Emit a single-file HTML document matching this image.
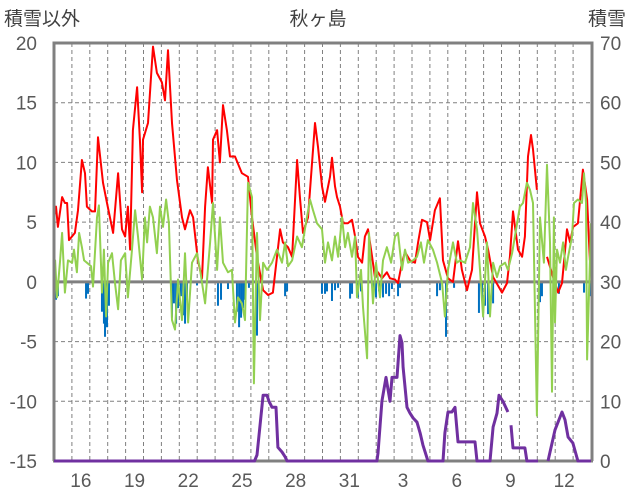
<!DOCTYPE html>
<html><head><meta charset="utf-8"><style>
html,body{margin:0;padding:0;background:#fff;}
svg{display:block;font-family:"Liberation Sans","Noto Sans CJK JP",sans-serif;}
</style></head><body>
<svg id="chart" width="636" height="501" viewBox="0 0 636 501" xmlns="http://www.w3.org/2000/svg">
<text x="318" y="25" font-size="19" text-anchor="middle" fill="#404040">秋ヶ島</text>
<text x="4" y="25" font-size="19" fill="#404040">積雪以外</text>
<text x="588" y="25" font-size="19" fill="#404040">積雪</text>
<g id="grid"></g>
<g id="bars"></g>
<g id="lines"></g>
<g id="frame"></g>
<g id="snowg"></g>
<g id="labels"></g>
</svg>
<script>
const leftTicks=[20,15,10,5,0,-5,-10,-15];
const rightTicks=[70,60,50,40,30,20,10,0];
const dayLabels=["16","19","22","25","28","31","3","6","9","12"];
const dayLabelIdx=[1,4,7,10,13,16,19,22,25,28];
const tRed=[0,0.11,0.22,0.45,0.61,0.73,0.84,1.17,1.34,1.56,1.73,1.84,2.12,2.29,2.46,2.74,2.96,3.30,3.58,3.80,3.97,4.13,4.25,4.41,4.64,4.80,4.92,4.97,5.25,5.53,5.75,6.03,6.20,6.37,6.59,6.87,7.15,7.32,7.60,7.77,8.04,8.27,8.44,8.60,8.83,8.88,9.11,9.27,9.44,9.66,9.83,10.11,10.50,10.84,11.06,11.34,11.68,11.96,12.23,12.46,12.63,12.79,13.07,13.30,13.58,13.74,13.91,14.19,14.58,14.75,14.97,15.14,15.42,15.53,15.70,15.81,15.98,16.15,16.42,16.65,16.82,16.98,17.21,17.37,17.54,17.77,17.93,18.10,18.32,18.60,18.77,19.05,19.22,19.44,19.61,19.89,20.17,20.34,20.56,20.84,21.01,21.28,21.56,21.73,22.01,22.29,22.57,22.79,23.07,23.35,23.63,23.80,24.08,24.25,24.53,24.80,25.03,25.31,25.47,25.64,25.92,26.15,26.31,26.48,26.65,26.76,26.98,27.1,27.54,27.88,28.16,28.38,28.66,28.83,29.00,29.27,29.55,29.78,29.94];
const red=[5.4,6.3,4.6,7.1,6.6,6.6,3.5,4.1,6.0,10.2,9.1,6.3,5.9,5.9,12.1,8.3,6.6,4.1,9.1,4.4,3.8,6.3,2.7,12.7,16.3,11.9,7.5,11.9,13.3,19.7,17.5,16.7,15.2,19.4,13.3,8.5,5.4,4.4,6.0,5.4,1.8,0.3,6.3,9.6,6.6,11.9,12.7,10.0,14.8,12.7,10.5,10.5,9.1,8.8,5.4,2.1,-0.7,-1.1,-0.9,2.1,4.4,3.3,2.9,2.1,10.2,7.1,4.1,5.4,13.3,11.3,8.0,6.7,8.8,10.4,8.0,7.1,6.3,4.9,4.9,5.2,3.8,2.1,1.6,3.8,4.4,2.1,0.4,0.8,0.3,0.8,0.3,0.2,-0.1,1.6,2.5,1.8,1.6,3.3,5.2,5.0,3.5,6.0,7.0,1.8,0.3,0.0,3.4,1.0,-0.7,1.0,7.5,4.9,3.8,2.7,0.4,-0.3,-0.9,-0.1,2.1,5.9,2.7,2.1,3.8,10.5,12.3,11.1,7.7,null,2.1,0.4,-0.9,-0.1,4.4,3.3,4.6,4.9,9.4,6.9,1.8];
const tGreen=[0,0.06,0.17,0.34,0.45,0.61,0.78,1.01,1.12,1.28,1.40,1.56,1.68,1.84,2.07,2.18,2.40,2.51,2.68,2.79,2.91,3.02,3.24,3.41,3.58,3.74,3.97,4.13,4.36,4.53,4.69,4.92,5.08,5.20,5.36,5.53,5.75,5.92,6.09,6.26,6.42,6.59,6.76,6.93,7.15,7.32,7.49,7.71,7.99,8.16,8.44,8.72,8.88,9.11,9.27,9.44,9.72,9.94,10.11,10.28,10.50,10.67,10.84,11.06,11.17,11.34,11.51,11.68,11.90,12.18,12.46,12.74,12.91,13.07,13.30,13.58,13.85,14.13,14.30,14.47,14.69,14.97,15.14,15.31,15.53,15.70,15.87,16.09,16.26,16.42,16.65,16.82,16.93,17.15,17.26,17.49,17.60,17.82,17.99,18.21,18.38,18.60,18.83,19.05,19.22,19.44,19.61,19.78,20.06,20.28,20.50,20.67,20.89,21.17,21.40,21.68,21.84,22.01,22.29,22.51,22.68,22.96,23.24,23.41,23.63,23.80,23.97,24.19,24.36,24.53,24.75,24.92,25.20,25.36,25.59,25.87,26.03,26.20,26.42,26.59,26.76,26.98,27.15,27.37,27.54,27.71,27.82,27.93,27.99,28.10,28.27,28.44,28.60,28.72,28.94,29.05,29.27,29.50,29.61,29.72,29.78,30.0];
const green=[-4.0,1.8,-1.3,1.8,4.1,-0.9,1.8,1.6,2.7,0.8,4.1,2.9,1.8,1.6,1.3,-0.4,5.4,6.4,-0.9,2.7,-2.9,1.6,2.4,-0.1,-2.3,1.8,2.4,-1.3,2.7,6.0,3.8,0.2,5.4,3.3,6.3,5.4,2.4,6.3,4.6,6.9,4.9,-3.2,-4.0,0.2,-3.2,2.4,-3.4,1.6,2.4,1.0,-1.8,3.3,6.6,1.0,5.4,1.6,0.8,1.0,-3.4,-1.3,-1.8,-3.2,8.3,7.1,-8.5,4.1,-3.2,1.6,1.0,1.6,2.7,1.6,3.3,1.3,1.8,3.8,2.9,5.4,6.9,6.0,4.9,4.4,1.6,3.3,1.8,3.8,2.1,5.4,2.9,4.1,2.1,3.8,-1.3,1.0,-2.1,-6.4,4.1,-1.8,1.6,-1.3,1.8,2.9,1.6,3.8,4.1,1.0,2.7,1.6,1.8,2.1,3.3,1.6,3.5,2.7,1.6,-0.1,-2.9,1.0,3.3,1.6,1.8,1.6,2.9,6.6,4.4,1.0,-2.9,3.3,-2.9,1.6,0.4,1.3,1.6,1.0,2.4,4.9,6.3,6.6,8.3,7.7,6.6,-11.2,5.4,1.6,9.8,3.3,-9.2,5.4,-3.4,2.7,1.6,3.3,1.0,2.1,3.8,6.6,6.9,6.6,9.1,6.6,-6.5,4.9];
const tBars=[0.11,0.22,1.79,1.90,2.68,2.79,2.85,2.96,3.07,6.59,6.70,6.82,6.93,7.09,7.21,7.32,7.43,7.99,9.16,9.33,9.72,10.22,10.34,10.45,10.56,10.67,10.89,11.34,12.91,13.02,14.97,15.14,15.25,15.53,15.70,15.87,16.54,16.65,16.98,17.15,17.82,17.99,18.16,18.38,18.55,18.72,18.88,19.22,19.33,21.40,21.56,21.90,22.35,23.74,23.91,24.08,24.25,24.53,27.15,27.26,28.21,29.61,29.94];
const bars=[-1.5,-1.2,-1.4,-1.0,-2.5,-3.5,-4.6,-3.8,-2.0,-3.0,-1.8,-3.5,-2.2,-1.2,-2.8,-3.5,-1.5,-0.3,-2.0,-1.5,-0.6,-2.5,-3.8,-3.0,-2.2,-1.5,-0.5,-4.5,-1.2,-0.8,-1.0,-1.0,-0.8,-1.6,-0.7,-0.5,-1.4,-1.0,-1.3,-0.8,-1.2,-1.3,-0.8,-1.3,-1.0,-1.2,-0.6,-1.2,-0.5,-1.2,-0.7,-4.6,-0.5,-2.6,-1.5,-2.0,-2.7,-1.8,-1.7,-1.2,-1.0,-0.9,-1.2];
const tSnow=[0,11.2,11.34,11.68,11.90,12.01,12.18,12.40,12.51,12.74,12.91,13.02,18.04,18.10,18.32,18.55,18.77,18.88,19.16,19.33,19.44,19.50,19.72,19.89,20.06,20.28,20.45,20.61,20.84,20.89,21.73,21.84,22.01,22.23,22.40,22.57,23.52,23.63,24.36,24.53,24.75,24.86,25.08,25.36,25.45,25.53,25.64,26.31,26.42,27.04,27.3,27.60,27.99,28.38,28.55,28.72,28.99,29.27,30];
const snow=[0,0,1,11,11,10,9,9,2.3,1.5,0.7,0,0,1.3,10,14,10,14,14,21,19.8,15.7,9,8,7.2,6.5,4.7,2.7,0.5,0,0,4.7,8.2,8.2,9,3.2,3.2,0,0,5.7,8,11,10,8.2,null,6,2.2,2.2,0,0,null,0,5.2,8.2,6.9,4,3,0,0];

const NS="http://www.w3.org/2000/svg";
const X0=54,X1=591,YT=43,YB=461,DAYS=30;
const xs=t=>X0+(X1-X0)*t/DAYS;
const yl=v=>YB-(v+15)*(YB-YT)/35;
const yr=v=>YB-v*(YB-YT)/70;
function mk(tag,attrs,parent){const e=document.createElementNS(NS,tag);for(const k in attrs)e.setAttribute(k,attrs[k]);parent.appendChild(e);return e;}
const grid=document.getElementById('grid');
for(let d=1;d<DAYS;d++){
 const l=mk('line',{x1:xs(d),x2:xs(d),y1:YT,y2:YB,stroke:'#808080','stroke-width':1,'stroke-dasharray':'4,3'},grid);
 
 
}
leftTicks.forEach(v=>{if(v===20||v===-15||v===0)return;
 const l=mk('line',{x1:X0,x2:X1,y1:yl(v),y2:yl(v),stroke:'#808080','stroke-width':1,'stroke-dasharray':'4,3'},grid);
 
 
});
const bg=document.getElementById('bars');
tBars.forEach((t,i)=>{const v=bars[i];
 const r=mk('rect',{x:xs(t)-1,y:yl(0),width:2,height:yl(v)-yl(0),fill:'#0070C0'},bg);
 
 
});
function pathOf(ts,vs,yf){let d='',pen=false;ts.forEach((t,i)=>{const v=vs[i];if(v===null){pen=false;return;}d+=(pen?'L':'M')+xs(t).toFixed(1)+','+yf(v).toFixed(1);pen=true;});return d;}
const lg=document.getElementById('lines');
const zl=mk('line',{x1:X0,x2:X1,y1:yl(0),y2:yl(0),stroke:'#808080','stroke-width':3},lg);


const pr=mk('path',{d:pathOf(tRed,red,yl),fill:'none',stroke:'#FF0000','stroke-width':2,'stroke-linejoin':'round'},lg);


const pg=mk('path',{d:pathOf(tGreen,green,yl),fill:'none',stroke:'#92D050','stroke-width':2,'stroke-linejoin':'round'},lg);


const fr=document.getElementById('frame');
const b=mk('path',{d:`M${X0},${YB}V${YT}H${X1+1}V${YB}`,fill:'none',stroke:'#808080','stroke-width':3},fr);


const ax=mk('line',{x1:X0-1,x2:X1+2,y1:YB,y2:YB,stroke:'#808080','stroke-width':3},fr);


const sg=document.getElementById('snowg');
const pp=mk('path',{d:pathOf(tSnow,snow,yr),fill:'none',stroke:'#7030A0','stroke-width':3,'stroke-linejoin':'round'},sg);


const lb=document.getElementById('labels');
leftTicks.forEach(v=>{const t=mk('text',{x:37,y:yl(v)+7,'font-size':19,'text-anchor':'end',fill:'#595959'},lb);t.textContent=v;
 
 });
rightTicks.forEach(v=>{const t=mk('text',{x:600,y:yr(v)+7,'font-size':19,fill:'#595959'},lb);t.textContent=v;
 
 });
dayLabels.forEach((s,i)=>{const t=mk('text',{x:xs(dayLabelIdx[i]+0.5),y:487,'font-size':19,'text-anchor':'middle',fill:'#595959'},lb);t.textContent=s;
 
 });
</script>
</body></html>
